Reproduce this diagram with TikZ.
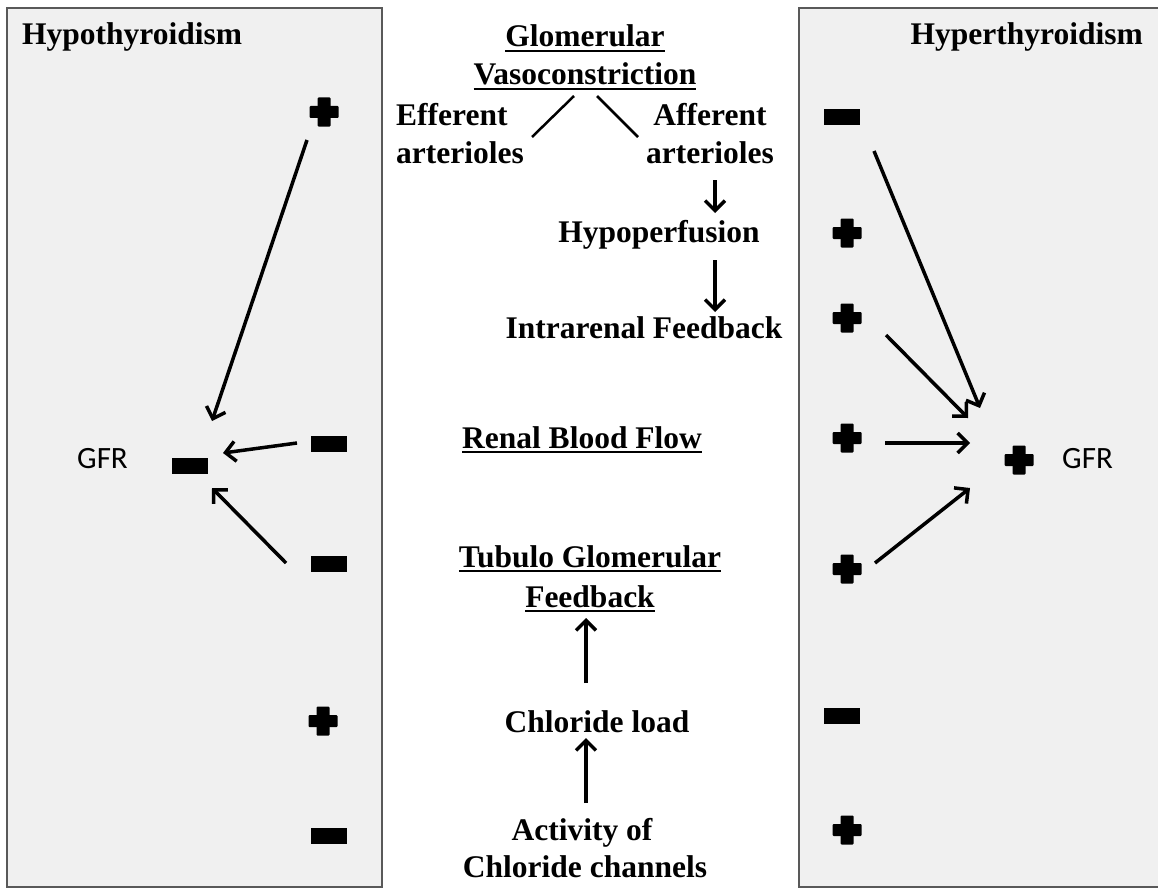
\documentclass[tikz,border=0pt]{standalone}
\usepackage{fontspec}
\setmainfont{Liberation Serif}
\newfontfamily\gfrfont{Carlito}
\usetikzlibrary{arrows.meta}
\newcommand{\ultext}[1]{\setbox0\hbox{#1}\rlap{\rule[-5pt]{\wd0}{2.2pt}}\box0}

\tikzset{
  txt/.style={font=\fontsize{31.5}{38}\selectfont\bfseries,inner sep=0pt,anchor=base},
  gfrtxt/.style={font=\gfrfont\fontsize{31}{36}\selectfont,inner sep=0pt,anchor=base west},
  panel/.style={fill=black!6,draw=black!65,line width=2.8pt},
  arr/.style={line width=3.5pt,-{Straight Barb[length=10pt,width=20pt]}},
  branch/.style={line width=2.5pt},
  minusmark/.style={fill=black,inner sep=0pt,minimum width=36pt,minimum height=16pt},
  plusmark/.style={inner sep=0pt,minimum size=29pt,path picture={
    \fill[rounded corners=1pt] ([xshift=-6.5pt]path picture bounding box.south) rectangle ([xshift=6.5pt]path picture bounding box.north);
    \fill[rounded corners=1pt] ([yshift=-6pt]path picture bounding box.west) rectangle ([yshift=6pt]path picture bounding box.east);}}
}

\begin{document}
\begin{tikzpicture}
  [x=1pt,y=-1pt]
  \useasboundingbox (0,0) rectangle (1158,888);
  \fill[white] (0,0) rectangle (1158,888);
  \draw[panel] (7,8) rectangle (382,887);
  \draw[panel] (799,8) rectangle (1175,887);

  \node[txt,anchor=base west] (hypotitle) at (22,45) {Hypothyroidism};
  \node[txt,anchor=base east] (hypertitle) at (1143,45) {Hyperthyroidism};

  % middle column
  \node[txt] (glom) at (585,47) {\ultext{Glomerular}};
  \node[txt] (vaso) at (585,85) {\ultext{Vasoconstriction}};
  \node[txt,anchor=base west] (eff1) at (396,125) {Efferent};
  \node[txt,anchor=base west] (eff2) at (396,163) {arterioles};
  \node[txt] (aff1) at (710,125) {Afferent};
  \node[txt] (aff2) at (710,163) {arterioles};
  \node[txt] (hypo) at (659,242) {Hypoperfusion};
  \node[txt] (intra) at (644,338) {Intrarenal Feedback};
  \node[txt] (rbf) at (582,448) {\ultext{Renal Blood Flow}};
  \node[txt] (tgf1) at (590,567) {\ultext{Tubulo Glomerular}};
  \node[txt] (tgf2) at (590,607) {\ultext{Feedback}};
  \node[txt] (chlor) at (597,732) {Chloride load};
  \node[txt] (act1) at (582,840) {Activity of};
  \node[txt] (act2) at (585,877) {Chloride channels};

  \draw[branch] ([xshift=-11pt,yshift=-11pt]vaso.base) -- ([xshift=136pt,yshift=-12pt]eff1.base west);
  \draw[branch] ([xshift=12pt,yshift=-11pt]vaso.base) -- ([xshift=-72pt,yshift=-12pt]aff1.base);
  \draw[arr] ([xshift=5pt,yshift=-17pt]aff2.base) -- ([xshift=56pt,yshift=29pt]hypo.base);
  \draw[arr] ([xshift=56pt,yshift=-18pt]hypo.base) -- ([xshift=71pt,yshift=26pt]intra.base);
  \draw[arr] ([xshift=-11pt,yshift=49pt]chlor.base) -- ([xshift=-4pt,yshift=-11pt]tgf2.base);
  \draw[arr] ([xshift=4pt,yshift=37pt]act1.base) -- ([xshift=-11pt,yshift=-6pt]chlor.base);

  % signs
  \foreach \n/\x/\y in {lp1/324/112,lp2/323/721,rp1/847/233,rp2/847/318,rp3/847/438,rp4/847/569,rp5/847/830,rgfr/1019/460}
    \node[plusmark] (\n) at (\x,\y) {};
  \foreach \n/\x/\y in {lm1/329/444,lm2/329/564,lm3/329/836,lgfr/190/466,rm1/842/117,rm2/842/716}
    \node[minusmark] (\n) at (\x,\y) {};

  \node[gfrtxt] (lgfrtxt) at (77,468) {GFR};
  \node[gfrtxt] (rgfrtxt) at (1062,468) {GFR};

  \foreach \from/\fx/\fy/\to/\tx/\ty in {lp1/-17/-28/lgfr/22/45,lm1/-32/1/lgfr/33/13,lm2/-43/1/lgfr/22/-22,
      rm1/32/-34/rgfr/-39/52,rp2/39/-17/rgfr/-51/42,rp3/38/-5/rgfr/-49/17,rp4/28/6/rgfr/-49/-28}
    \draw[arr] ([xshift=\fx pt,yshift=\fy pt]\from.center) -- ([xshift=\tx pt,yshift=\ty pt]\to.center);
\end{tikzpicture}
\end{document}
